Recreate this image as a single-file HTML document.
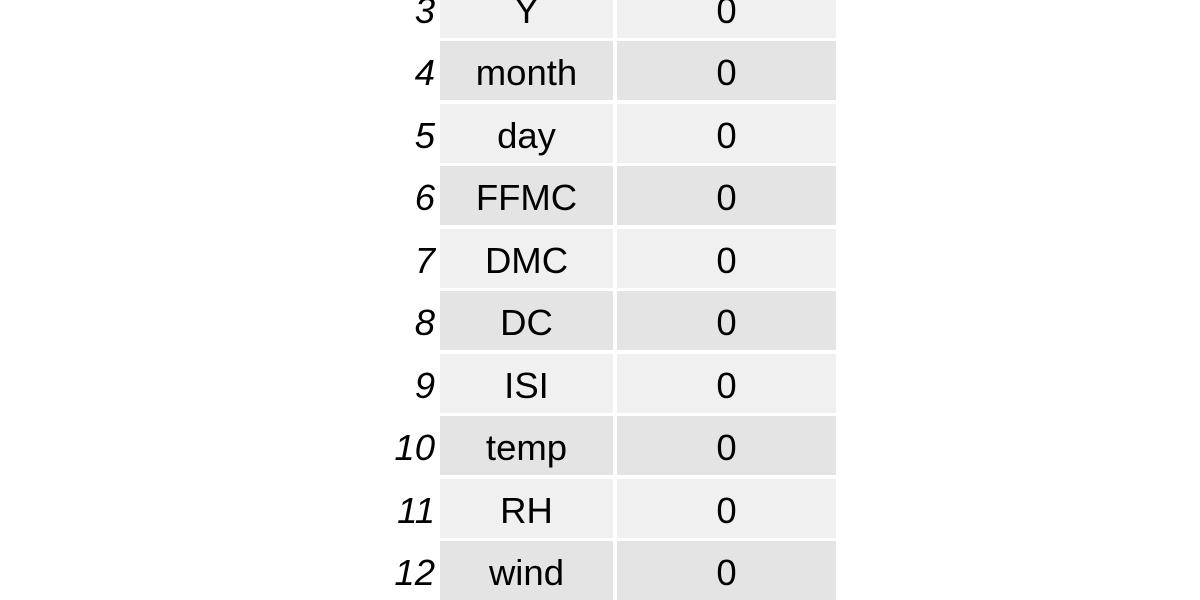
<!DOCTYPE html>
<html><head><meta charset="utf-8"><style>
html,body{margin:0;padding:0;width:1200px;height:600px;background:#fff;overflow:hidden;font-family:"Liberation Sans",Arial,sans-serif;}
.c{position:absolute;height:59px;display:flex;align-items:center;justify-content:center;font-size:36.5px;color:#000;box-sizing:border-box;padding-top:5px;}
.i{position:absolute;left:370px;width:65px;height:59px;display:flex;align-items:center;justify-content:flex-end;font-size:36.5px;font-style:italic;box-sizing:border-box;padding-top:5px;}
</style></head><body>
<div id="t"></div>
<script>
const idx=[3,4,5,6,7,8,9,10,11,12];
const names=["Y","month","day","FFMC","DMC","DC","ISI","temp","RH","wind"];
const vals=[0,0,0,0,0,0,0,0,0,0];
const t=document.getElementById('t');
idx.forEach((n,k)=>{
  const top=-21.5+k*62.5;
  const bg=k%2===0?'#f0f0f0':'#e4e4e4';
  const a=document.createElement('div');a.className='i';a.style.top=top+'px';a.textContent=n;
  
  
  t.appendChild(a);
  const b=document.createElement('div');b.className='c';b.style.cssText+=`top:${top}px;left:440px;width:173px;background:${bg}`;b.textContent=names[k];
  
  
  t.appendChild(b);
  const c=document.createElement('div');c.className='c';c.style.cssText+=`top:${top}px;left:617px;width:219px;background:${bg}`;c.textContent=vals[k];
  
  
  t.appendChild(c);
});
</script>
</body></html>
